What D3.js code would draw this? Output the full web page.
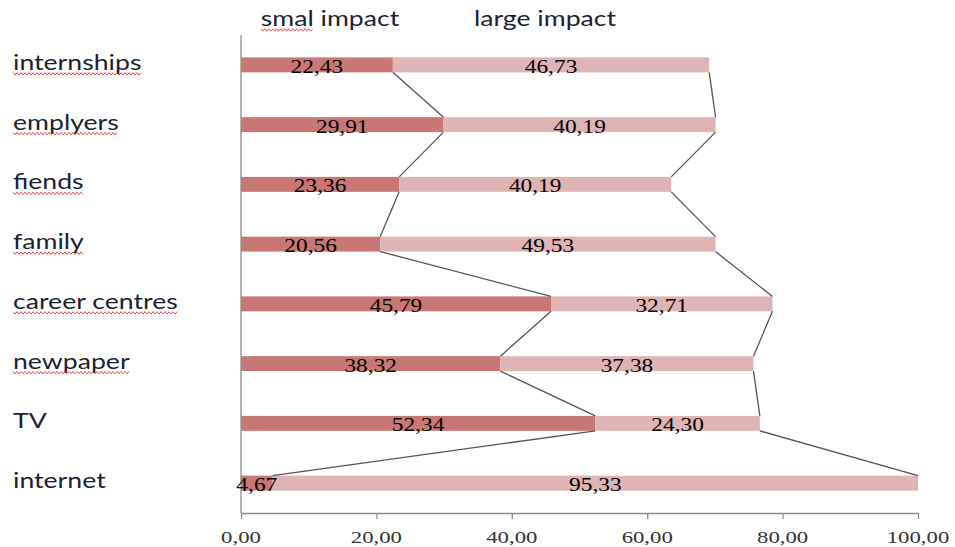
<!DOCTYPE html>
<html>
<head>
<meta charset="utf-8">
<script src="https://cdn.jsdelivr.net/npm/d3@7"></script>
<style>
  html, body { margin: 0; padding: 0; background: #fff; }
  svg { display: block; }
</style>
</head>
<body>
<svg id="chart" width="955" height="547"></svg>
<script>
// ---- data ----
const categories = ["internships", "emplyers", "fiends", "family", "career centres", "newpaper", "TV", "internet"];
const smallImpact = [22.43, 29.91, 23.36, 20.56, 45.79, 38.32, 52.34, 4.67];
const largeImpact = [46.73, 40.19, 40.19, 49.53, 32.71, 37.38, 24.30, 95.33];
const xTicks = [0, 20, 40, 60, 80, 100];
const seriesNames = ["smal impact", "large impact"];
const misspelled = ["internships", "emplyers", "fiends", "family", "career centres", "newpaper", "smal"];

// ---- layout ----
const plot = { left: 241, right: 918, top: 35, bottom: 513 };
const stretch = 1.3;
const svg = d3.select("#chart");

const x = d3.scaleLinear().domain([0, 100]).range([plot.left, plot.right]);
const y = d3.scaleBand().domain(categories).range([plot.top, plot.bottom])
  .paddingInner(0.75).paddingOuter(0.375);
const bw = y.bandwidth();

const locale = d3.formatLocale({ decimal: ",", thousands: ".", grouping: [3], currency: ["", ""] });
const fmt = locale.format(".2f");

const colors = ["#c97676", "#deb4b4"];

const rows = categories.map((c, i) => ({
  cat: c,
  segs: [
    { s: 0, x0: 0, x1: smallImpact[i], v: smallImpact[i] },
    { s: 1, x0: smallImpact[i], x1: smallImpact[i] + largeImpact[i], v: largeImpact[i] }
  ]
}));

// axes
const gx = svg.append("g").attr("transform", `translate(0,${plot.bottom})`)
  .call(d3.axisBottom(x).tickValues(xTicks).tickSize(6).tickSizeOuter(0).tickFormat(() => ""));
gx.select(".domain").attr("stroke", "#8a8a8a").attr("stroke-width", 1.3);
gx.selectAll(".tick line").attr("stroke", "#8a8a8a").attr("stroke-width", 1.3);

svg.append("line")
  .attr("x1", x(0)).attr("x2", x(0)).attr("y1", plot.top).attr("y2", plot.bottom)
  .attr("stroke", "#8a8a8a").attr("stroke-width", 1.3);

// tick labels (stretched serif)
svg.append("g").selectAll("text").data(xTicks).join("text")
  .attr("transform", d => `translate(${x(d)},${plot.bottom + 30}) scale(${stretch},1)`)
  .attr("text-anchor", "middle")
  .attr("font-family", "'Liberation Serif', 'DejaVu Serif', serif")
  .attr("font-size", 17.5)
  .attr("fill", "#333")
  .text(d => fmt(d));

// bars
const g = svg.append("g");
g.selectAll("g.row").data(rows).join("g").attr("class", "row")
  .each(function (r) {
    d3.select(this).selectAll("rect").data(r.segs).join("rect")
      .attr("x", d => x(d.x0))
      .attr("width", d => x(d.x1) - x(d.x0))
      .attr("y", y(r.cat))
      .attr("height", bw)
      .attr("fill", d => colors[d.s]);
  });

// series lines
const lineG = svg.append("g").attr("stroke", "#555").attr("stroke-width", 1.3).attr("fill", "none");
[0, 1].forEach(s => {
  for (let i = 0; i < rows.length - 1; i++) {
    const a = rows[i].segs[s].x1, b = rows[i + 1].segs[s].x1;
    lineG.append("line")
      .attr("x1", x(a)).attr("y1", y(rows[i].cat) + bw)
      .attr("x2", x(b)).attr("y2", y(rows[i + 1].cat));
  }
});

// value labels
rows.forEach(r => {
  svg.append("g").selectAll("text").data(r.segs).join("text")
    .attr("transform", d => `translate(${(x(d.x0) + x(d.x1)) / 2},${y(r.cat) + bw / 2 + 8}) scale(${stretch},1)`)
    .attr("text-anchor", "middle")
    .attr("font-family", "'Liberation Serif', 'DejaVu Serif', serif")
    .attr("font-size", 18)
    .attr("fill", "#000")
    .text(d => fmt(d.v));
});

// wavy underline helper
function wavy(x0, x1, yy) {
  const pts = [];
  let k = 0;
  for (let xx = x0; xx <= x1; xx += 2) { pts.push([xx, yy + (k % 2 ? 1.2 : -1.2)]); k++; }
  return d3.line()(pts);
}

// category labels
const catG = svg.append("g");
categories.forEach(c => {
  const tx = 13, ty = y(c) + bw / 2 + 5;
  const t = catG.append("text")
    .attr("transform", `translate(${tx},${ty}) scale(${stretch},1)`)
    .attr("font-family", "Lato, 'Open Sans', sans-serif")
    .attr("font-size", 20.5)
    .attr("fill", "#1d1f33")
    .text(c);
  if (misspelled.includes(c)) {
    const w = t.node().getComputedTextLength() * stretch;
    catG.append("path").attr("d", wavy(tx, tx + w, ty + 4))
      .attr("stroke", "#e53030").attr("stroke-width", 0.9).attr("fill", "none");
  }
});

// legend header
const legendX = [330, 545];
seriesNames.forEach((nm, i) => {
  const t = svg.append("text")
    .attr("transform", `translate(${legendX[i]},26) scale(${stretch},1)`)
    .attr("text-anchor", "middle")
    .attr("font-family", "Lato, 'Open Sans', sans-serif")
    .attr("font-size", 20.5)
    .attr("fill", "#1d1f33")
    .text(nm);
  const word = nm.split(" ")[0];
  if (misspelled.includes(word)) {
    const full = t.node().getComputedTextLength() * stretch;
    const tmp = svg.append("text").attr("font-family", "Lato, 'Open Sans', sans-serif")
      .attr("font-size", 20.5).text(word);
    const ww = tmp.node().getComputedTextLength() * stretch;
    tmp.remove();
    const sx = legendX[i] - full / 2;
    svg.append("path").attr("d", wavy(sx, sx + ww, 30))
      .attr("stroke", "#e53030").attr("stroke-width", 0.9).attr("fill", "none");
  }
});
</script>
</body>
</html>
